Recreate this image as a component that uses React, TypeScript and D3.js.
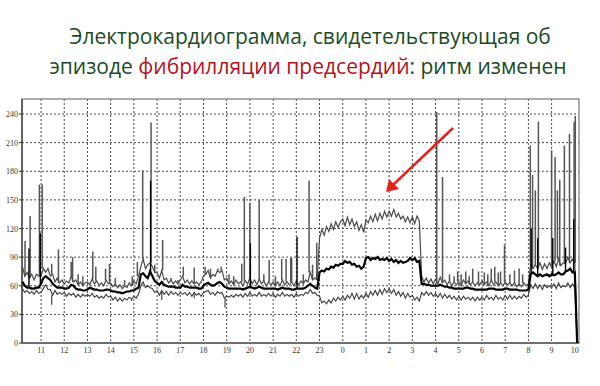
import React from "react";
import * as d3 from "d3";

// ---- data (heart rate, bpm) sampled every 0.1 h starting at 10.2 h ----
const T0 = 10.2;
const STEP = 0.1;

const maxValues = [
  80, 70, 74, 68, 72, 66, 72, 70,
  70, 78, 74, 78, 70, 72, 64, 68, 63, 66,
  62, 65, 63, 70, 64, 66, 61, 64, 60, 63,
  64, 61, 67, 62, 65, 60, 63, 60, 66, 62,
  63, 59, 62, 58, 61, 57, 60, 58, 63, 60,
  65, 62, 70, 80, 88, 78, 82, 84, 80, 74,
  74, 68, 76, 66, 68, 63, 66, 62, 65, 62,
  66, 70, 63, 66, 62, 65, 62, 64, 61, 64,
  70, 72, 76, 68, 72, 70, 76, 74, 76, 66,
  68, 62, 65, 61, 66, 62, 64, 60, 65, 62,
  68, 62, 66, 61, 67, 62, 65, 60, 64, 61,
  64, 60, 64, 60, 66, 61, 64, 61, 64, 60,
  65, 61, 65, 62, 66, 64, 74, 66, 68, 66,
  110, 119, 113, 122, 117, 125, 119, 127, 121, 127,
  130, 123, 132, 124, 130, 122, 127, 118, 124, 116,
  129, 126, 133, 127, 135, 128, 136, 130, 138, 132,
  138, 133, 140, 132, 136, 130, 133, 127, 132, 126,
  132, 125, 133, 128, 70, 64, 68, 63, 67, 62,
  67, 62, 69, 63, 66, 61, 65, 60, 64, 61,
  64, 60, 66, 62, 65, 61, 64, 60, 63, 61,
  65, 61, 64, 60, 66, 61, 64, 60, 63, 60,
  64, 61, 63, 60, 63, 59, 62, 59, 63, 60,
  62, 84, 78, 82, 78, 84, 77, 83, 78, 84,
  80, 86, 80, 88, 81, 84, 83, 90, 84, 88,
  84, 0,
];

const meanValues = [
  64, 60, 58, 58, 57, 57, 58, 58,
  62, 68, 70, 68, 66, 62, 60, 58, 58, 58,
  57, 57, 58, 61, 60, 57, 56, 56, 55, 55,
  56, 58, 57, 56, 56, 55, 55, 55, 56, 56,
  55, 54, 54, 53, 53, 52, 53, 54, 54, 55,
  55, 57, 58, 72, 73, 70, 68, 75, 70, 65,
  63, 61, 64, 61, 60, 59, 59, 59, 58, 58,
  58, 61, 59, 59, 58, 58, 58, 58, 57, 57,
  60, 62, 63, 61, 60, 61, 63, 64, 62, 59,
  58, 57, 57, 57, 57, 57, 57, 56, 57, 58,
  59, 58, 57, 58, 59, 58, 57, 57, 57, 57,
  57, 57, 56, 57, 58, 57, 57, 57, 56, 56,
  57, 57, 57, 57, 58, 60, 62, 60, 58, 57,
  74, 76, 75, 78, 77, 80, 79, 82, 81, 83,
  83, 86, 84, 85, 82, 83, 80, 81, 78, 80,
  89, 90, 87, 89, 88, 90, 87, 88, 87, 89,
  86, 88, 85, 87, 84, 86, 84, 85, 86, 89,
  87, 89, 85, 86, 62, 62, 61, 61, 60, 60,
  60, 60, 61, 60, 59, 59, 58, 58, 57, 57,
  57, 57, 57, 58, 58, 57, 57, 56, 56, 56,
  56, 56, 56, 57, 57, 57, 56, 56, 56, 56,
  57, 57, 56, 56, 56, 56, 55, 55, 55, 55,
  56, 72, 74, 72, 70, 72, 70, 71, 72, 70,
  72, 71, 72, 74, 72, 72, 75, 76, 78, 74,
  74, 0,
];

const minValues = [
  57, 53, 55, 52, 54, 51, 55, 52,
  53, 57, 61, 56, 56, 50, 55, 51, 53, 51,
  53, 49, 52, 50, 52, 48, 51, 48, 51, 49,
  51, 49, 52, 48, 50, 47, 49, 47, 51, 48,
  49, 45, 48, 44, 47, 44, 47, 45, 48, 46,
  49, 47, 51, 60, 64, 58, 60, 58, 57, 53,
  55, 50, 55, 51, 54, 50, 54, 51, 53, 50,
  53, 51, 53, 50, 53, 49, 53, 50, 52, 49,
  53, 54, 55, 51, 53, 50, 54, 52, 53, 47,
  49, 48, 50, 48, 51, 49, 51, 48, 52, 49,
  53, 49, 51, 49, 53, 49, 51, 49, 52, 49,
  52, 48, 51, 49, 53, 49, 51, 49, 51, 48,
  52, 49, 51, 50, 53, 52, 56, 52, 53, 50,
  49, 42, 44, 41, 45, 42, 47, 44, 48, 45,
  49, 45, 50, 47, 52, 46, 52, 46, 50, 47,
  52, 48, 54, 50, 55, 50, 56, 51, 57, 53,
  57, 52, 56, 50, 54, 49, 53, 47, 52, 48,
  50, 45, 48, 44, 53, 50, 54, 50, 53, 49,
  52, 48, 52, 47, 51, 47, 50, 46, 49, 45,
  49, 45, 49, 46, 48, 45, 48, 44, 48, 45,
  48, 45, 50, 46, 48, 45, 50, 46, 48, 45,
  50, 46, 50, 46, 49, 46, 49, 47, 51, 48,
  50, 61, 57, 62, 57, 61, 56, 61, 58, 60,
  58, 62, 57, 63, 58, 60, 59, 63, 58, 62,
  58, 0,
];

// short artefact spikes on the max trace (hour, peak bpm)
const maxSpikeTimes = [
  10.31, 10.53, 10.93, 11.05, 11.46, 11.75, 12.3, 12.36, 12.6, 12.8,
  13.23, 13.36, 13.78, 13.95, 14.2, 14.6, 14.93, 15.15, 15.38, 15.74,
  15.9, 16.24, 16.6, 16.9, 17.13, 17.6, 18.07, 18.3, 18.62, 18.76,
  19.1, 19.3, 19.65, 19.76, 20.0, 20.4, 20.6, 20.83, 21.1, 21.37,
  21.56, 21.76, 21.8, 22.3, 22.55, 22.7, 22.88, 28.05, 28.3, 28.6,
  28.8, 28.95, 29.1, 29.3, 29.45, 29.6, 29.85, 30.1, 30.25, 30.4,
  30.55, 30.7, 30.8, 30.97, 31.2, 31.4, 31.6, 31.75, 32.08, 32.18,
  32.3, 32.43, 33.0, 33.15, 33.25, 33.35, 33.55, 33.77, 33.97, 34.02,
];
const maxSpikePeaks = [
  107, 133, 166, 166, 83, 98, 85, 90, 72, 70,
  96, 80, 78, 83, 68, 66, 70, 85, 181, 231,
  82, 108, 68, 66, 80, 79, 80, 78, 78, 80,
  72, 70, 83, 153, 147, 150, 72, 87, 70, 88,
  88, 89, 89, 72, 170, 82, 105, 242, 174, 72,
  70, 75, 72, 75, 70, 78, 75, 74, 72, 78,
  80, 74, 75, 103, 72, 76, 78, 72, 207, 176,
  160, 232, 202, 195, 160, 171, 207, 219, 232, 238,
];
const meanSpikeTimes = [10.48, 10.97, 15.72, 20.02, 22.03, 32.12, 32.4, 33.05, 33.6, 33.95];
const meanSpikePeaks = [99, 115, 170, 105, 111, 120, 110, 110, 100, 130];
const minDipTimes = [11.46, 14.9, 16.2, 17.6, 18.93];
const minDipValues = [40, 44, 45, 47, 37];

const yTicks = [0, 30, 60, 90, 120, 150, 180, 210, 240];
const hourTicks = d3.range(11, 35);
const hourLabels = hourTicks.map((h) => String(h % 24));

const titleLine1 = "Электрокардиограмма, свидетельствующая об";
const titleLine2a = "эпизоде ";
const titleLine2b = "фибрилляции предсердий";
const titleLine2c = ": ритм изменен";

export default function App() {
  const W = 600, H = 386;
  const left = 22, right = 579, top = 99, bottom = 343;
  const x = d3.scaleLinear().domain([10.18, 34.18]).range([left, right]);
  const y = d3.scaleLinear().domain([0, 240]).range([bottom, 114]);

  const tAt = (i: number) => T0 + i * STEP;
  const line = d3
    .line<number>()
    .x((_, i) => x(tAt(i)))
    .y((v) => y(v));

  const baseAt = (arr: number[], t: number) => {
    const i = Math.max(0, Math.min(arr.length - 1, Math.round((t - T0) / STEP)));
    return arr[i];
  };

  const grid = "#4a4a4a";
  return (
    <svg
      width={W}
      height={H}
      style={{ position: "absolute", left: 0, top: 0, background: "#fff" }}
    >
      <text
        x={310}
        y={44}
        textAnchor="middle"
        fontFamily="'Open Sans', 'Noto Sans', sans-serif"
        fontSize={21}
        fill="#1d4a26"
      >
        {titleLine1}
      </text>
      <text
        x={308}
        y={74}
        textAnchor="middle"
        fontFamily="'Open Sans', 'Noto Sans', sans-serif"
        fontSize={21}
        fill="#1d4a26"
      >
        <tspan>{titleLine2a}</tspan>
        <tspan fill="#b3121c">{titleLine2b}</tspan>
        <tspan>{titleLine2c}</tspan>
      </text>

      {/* grid */}
      {yTicks.filter((v) => v > 0).map((v) => (
        <line key={"gy" + v} x1={left} x2={right} y1={y(v)} y2={y(v)}
          stroke={grid} strokeWidth={1} strokeDasharray="2 2" />
      ))}
      {hourTicks.slice(0, -1).map((h) => (
        <line key={"gx" + h} x1={x(h)} x2={x(h)} y1={top} y2={bottom}
          stroke={grid} strokeWidth={1} strokeDasharray="2 2" />
      ))}

      {/* frame */}
      <rect x={left} y={top} width={right - left} height={bottom - top}
        fill="none" stroke="#777" strokeWidth={1.2} />
      <line x1={left} x2={left} y1={top} y2={bottom} stroke="#333" strokeWidth={1.2} />
      <line x1={left} x2={right} y1={bottom} y2={bottom} stroke="#333" strokeWidth={1.2} />

      {/* y labels */}
      {yTicks.map((v) => (
        <g key={"yl" + v}>
          <line x1={left - 3} x2={left} y1={y(v)} y2={y(v)} stroke="#333" />
          <text x={left - 4} y={y(v) + 3} textAnchor="end"
            fontFamily="'Liberation Serif', serif" fontSize={8} fill="#333">
            {v}
          </text>
        </g>
      ))}
      {/* x labels */}
      {hourTicks.map((h, i) => (
        <text key={"xl" + h} x={x(h)} y={353} textAnchor="middle"
          fontFamily="'Liberation Serif', serif" fontSize={8} fill="#333">
          {hourLabels[i]}
        </text>
      ))}

      {/* spikes */}
      {maxSpikeTimes.map((t, i) => (
        <line key={"ms" + i} x1={x(t)} x2={x(t)} y1={y(baseAt(maxValues, t))}
          y2={y(maxSpikePeaks[i])} stroke="#555" strokeWidth={1.5} />
      ))}
      {minDipTimes.map((t, i) => (
        <line key={"md" + i} x1={x(t)} x2={x(t)} y1={y(baseAt(minValues, t))}
          y2={y(minDipValues[i])} stroke="#444" strokeWidth={1.2} />
      ))}

      {/* series */}
      <path d={line(minValues) || ""} fill="none" stroke="#3a3a3a" strokeWidth={1.1} />
      <path d={line(maxValues) || ""} fill="none" stroke="#4a4a4a" strokeWidth={1.2} />
      <path d={line(meanValues) || ""} fill="none" stroke="#000" strokeWidth={2.2} />
      {meanSpikeTimes.map((t, i) => (
        <line key={"mn" + i} x1={x(t)} x2={x(t)} y1={y(baseAt(meanValues, t))}
          y2={y(meanSpikePeaks[i])} stroke="#000" strokeWidth={1.4} />
      ))}

      {/* arrow */}
      <line x1={453} y1={128} x2={393} y2={185} stroke="#e3221c" strokeWidth={2.5} />
      <path d="M386,192 L389,179 L399,189 Z" fill="#e3221c" />
    </svg>
  );
}
